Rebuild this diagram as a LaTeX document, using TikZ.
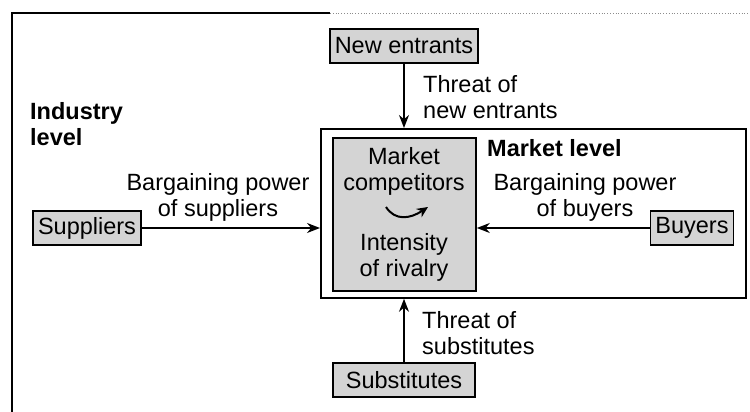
\documentclass[tikz,border=0pt]{standalone}
\usepackage{fontspec}
\setmainfont{Liberation Sans}
\usetikzlibrary{arrows.meta}
\begin{document}
\begin{tikzpicture}[x=1pt,y=-1pt,
  every node/.style={font=\fontsize{23.5}{26}\selectfont, inner sep=0pt},
  forcebox/.style={draw=black, line width=1.8pt, fill=black!17, minimum height=34pt, inner xsep=5pt},
  lbl/.style={align=center},
  flow/.style={line width=1.6pt, -{Stealth[length=13pt,width=10pt]}},
  frame/.style={line width=1.6pt}]
\useasboundingbox (0,0) rectangle (750,412);
% page frame
\draw[frame] (12,412) -- (12,13) -- (330,13);
\draw[line width=0.8pt, black!45, dotted] (330,13) -- (750,13);
% market level box
\node[draw=black, line width=1.8pt, minimum width=425pt, minimum height=169pt, anchor=north west] (market) at (320,128) {};
\node[draw=black, line width=1.8pt, fill=black!17, minimum width=143pt, minimum height=153pt, anchor=north west] (comp) at (332,137) {};
\node[lbl] (mc) at (404,171) {Market\\competitors};
\node[lbl] (ir) at (404,257) {Intensity\\of rivalry};
\draw[line width=2pt, -{Stealth[length=11pt,width=10pt]}] (386,207) .. controls (395,221) and (410,219) .. (428,207);
\node[font=\fontsize{23.5}{26}\selectfont\bfseries, anchor=west] (ml) at (487,148) {Market level};
% force boxes
\node[forcebox] (entr) at (404,46) {New entrants};
\node[forcebox] (supp) at (87,228) {Suppliers};
\node[forcebox] (buy) at (692,228) {Buyers};
\node[forcebox, minimum width=142pt] (subs) at (404,380) {Substitutes};
% labels
\node[font=\fontsize{23.5}{26}\selectfont\bfseries, align=left, anchor=west] (il) at (30,124) {Industry\\level};
\node[lbl, align=left, anchor=west] (tne) at (423,97) {Threat of\\new entrants};
\node[lbl, align=left, anchor=west] (ts) at (422,333) {Threat of\\substitutes};
\node[lbl] (bps) at (218,197) {Bargaining power\\of suppliers};
\node[lbl] (bpb) at (585,197) {Bargaining power\\of buyers};
% arrows
\draw[flow] (entr.south) -- (entr.south |- market.north);
\draw[flow] (subs.north) -- (subs.north |- market.south);
\draw[flow] (supp.east) -- (supp.east -| market.west);
\draw[flow] (buy.west) -- (buy.west -| comp.east);
\end{tikzpicture}
\end{document}
